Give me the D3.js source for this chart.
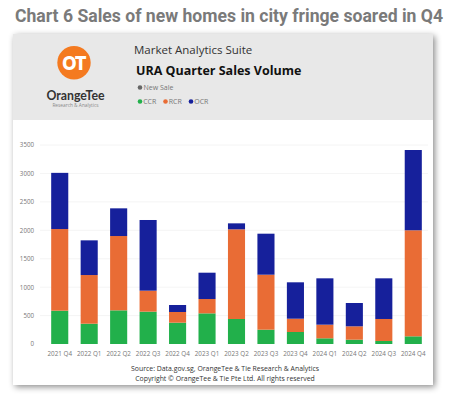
<!DOCTYPE html>
<html><head><meta charset="utf-8">
<script src="https://cdn.jsdelivr.net/npm/d3@7"></script>
<style>body{margin:0;background:#fff}svg{display:block}</style>
</head><body>
<script>
const categories = ["2021 Q4","2022 Q1","2022 Q2","2022 Q3","2022 Q4","2023 Q1","2023 Q2","2023 Q3","2023 Q4","2024 Q1","2024 Q2","2024 Q3","2024 Q4"];
const ccr = [586, 357, 592, 569, 375, 539, 440, 252, 211, 100, 76, 53, 135];
const rcr = [1436, 856, 1307, 369, 188, 252, 1577, 967, 234, 240, 235, 387, 1865];
const ocr = [988, 610, 487, 1243, 123, 463, 105, 721, 640, 815, 410, 715, 1412];
const yTicks = [0, 500, 1000, 1500, 2000, 2500, 3000, 3500];
const seriesNames = ["CCR", "RCR", "OCR"];
const colors = {CCR: "#22b04b", RCR: "#e96c35", OCR: "#16209b"};

const W = 458, H = 399;
const svg = d3.select("body").append("svg").attr("width", W).attr("height", H);
const defs = svg.append("defs");
const f = defs.append("filter").attr("id", "sh").attr("x", "-10%").attr("y", "-10%").attr("width", "120%").attr("height", "120%");
f.append("feDropShadow").attr("dx", 2).attr("dy", 2).attr("stdDeviation", 3).attr("flood-color", "#000").attr("flood-opacity", 0.45);

// title
svg.append("text").attr("x", 229).attr("y", 22).attr("text-anchor", "middle")
  .attr("font-family", "Roboto, sans-serif").attr("font-weight", "bold").attr("font-size", 17.6)
  .attr("fill", "#7a7a7a").text("Chart 6 Sales of new homes in city fringe soared in Q4");

// card
const cx0 = 13, cy0 = 34, cw = 420, ch = 351;
svg.append("rect").attr("x", cx0).attr("y", cy0).attr("width", cw).attr("height", ch).attr("fill", "#fff").attr("filter", "url(#sh)");
svg.append("rect").attr("x", cx0).attr("y", cy0).attr("width", cw).attr("height", 86).attr("fill", "#e8e8e8");

// logo
svg.append("circle").attr("cx", 74).attr("cy", 62.7).attr("r", 16.7).attr("fill", "#f47a20");
svg.append("text").attr("x", 74).attr("y", 68.5).attr("text-anchor", "middle").attr("font-family", "Open Sans, sans-serif")
  .attr("font-size", 17).attr("fill", "none").attr("stroke", "#fff").attr("stroke-width", 1.8).text("OT");
svg.append("text").attr("x", 75.5).attr("y", 99.5).attr("text-anchor", "middle").attr("font-family", "Lato, sans-serif")
  .attr("font-weight", "bold").attr("font-size", 12.3).attr("fill", "#333").text("OrangeTee");
svg.append("text").attr("x", 75.5).attr("y", 107).attr("text-anchor", "middle").attr("font-family", "Open Sans, sans-serif")
  .attr("font-size", 4.8).attr("fill", "#888").text("Research & Analytics");

// header texts
svg.append("text").attr("x", 134).attr("y", 54).attr("font-family", "Open Sans, sans-serif")
  .attr("font-size", 11.5).attr("fill", "#333").text("Market Analytics Suite");
svg.append("text").attr("x", 136).attr("y", 74.5).attr("font-family", "Open Sans, sans-serif").attr("font-weight", "bold")
  .attr("font-size", 12.5).attr("fill", "#111").text("URA Quarter Sales Volume");
svg.append("circle").attr("cx", 140).attr("cy", 87.5).attr("r", 2.3).attr("fill", "#666");
svg.append("text").attr("x", 143.5).attr("y", 90).attr("font-family", "Open Sans, sans-serif")
  .attr("font-size", 7).attr("fill", "#777").text("New Sale");
const leg = svg.append("g");
const legX = [140, 165.5, 191];
seriesNames.forEach((s, i) => {
  leg.append("circle").attr("cx", legX[i]).attr("cy", 101.5).attr("r", 2.3).attr("fill", colors[s]);
  leg.append("text").attr("x", legX[i] + 3.2).attr("y", 104).attr("font-family", "Open Sans, sans-serif")
    .attr("font-size", 7).attr("fill", "#777").text(s);
});

// chart
const x = d3.scaleBand().domain(categories).range([45, 428]).paddingInner(0.42).paddingOuter(0.21);
const y = d3.scaleLinear().domain([0, 3500]).range([344, 145]);

const grid = svg.append("g");
grid.selectAll("line").data(yTicks.filter(t => t > 0)).join("line")
  .attr("x1", 40).attr("x2", 428).attr("y1", d => y(d)).attr("y2", d => y(d))
  .attr("stroke", "#f1f1f1").attr("stroke-width", 0.8);

const yAxis = svg.append("g").attr("transform", "translate(34,0)")
  .call(d3.axisLeft(y).tickValues(yTicks).tickFormat(d3.format("d")).tickSize(0).tickPadding(0));
yAxis.select(".domain").remove();
yAxis.selectAll("text").attr("font-family", "Open Sans, sans-serif").attr("font-size", 6.2).attr("fill", "#777");

const table = categories.map((c, i) => ({cat: c, CCR: ccr[i], RCR: rcr[i], OCR: ocr[i]}));
const stack = d3.stack().keys(seriesNames)(table);
svg.append("g").selectAll("g").data(stack).join("g").attr("fill", d => colors[d.key])
  .selectAll("rect").data(d => d).join("rect")
  .attr("x", d => x(d.data.cat)).attr("width", x.bandwidth())
  .attr("y", d => y(d[1])).attr("height", d => y(d[0]) - y(d[1]));

const xAxis = svg.append("g").attr("transform", "translate(0,344)")
  .call(d3.axisBottom(x).tickSize(0).tickPadding(8));
xAxis.select(".domain").remove();
xAxis.selectAll("text").attr("font-family", "Open Sans, sans-serif").attr("font-size", 6.3).attr("fill", "#777");

// source
svg.append("text").attr("x", 225).attr("y", 370.5).attr("text-anchor", "middle").attr("font-family", "Open Sans, sans-serif")
  .attr("font-size", 6.9).attr("fill", "#333").text("Source: Data.gov.sg, OrangeTee & Tie Research & Analytics");
svg.append("text").attr("x", 225).attr("y", 380.5).attr("text-anchor", "middle").attr("font-family", "Open Sans, sans-serif")
  .attr("font-size", 6.9).attr("fill", "#333").text("Copyright © OrangeTee & Tie Pte Ltd. All rights reserved");
</script>
</body></html>
